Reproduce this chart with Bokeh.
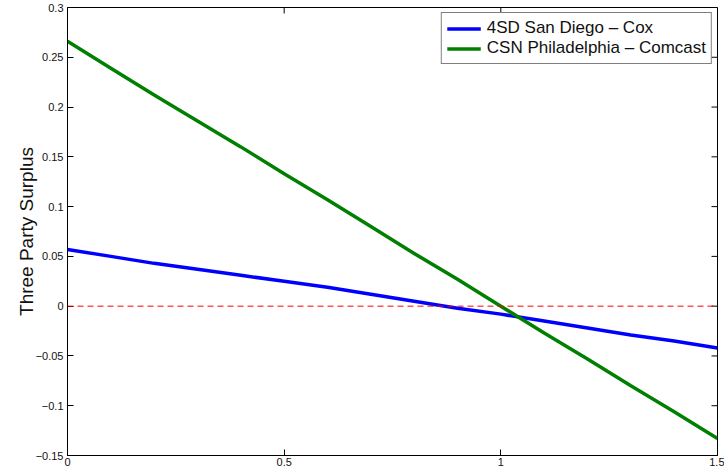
from bokeh.plotting import figure
from bokeh.models import (LinearAxis, FixedTicker, Range1d, Legend, LegendItem, Span)
from bokeh.embed import file_html
from bokeh.resources import INLINE

# ---- data ----
x_vals = [0.0, 0.1, 0.2, 0.3, 0.4, 0.5, 0.6, 0.7, 0.8, 0.9, 1.0, 1.1, 1.2, 1.3, 1.4, 1.5]
san_diego_cox = [0.057, 0.050, 0.043, 0.037, 0.031, 0.025, 0.019, 0.012, 0.005, -0.002,
                 -0.008, -0.015, -0.022, -0.029, -0.035, -0.042]
philadelphia_comcast = [0.266, 0.239, 0.212, 0.186, 0.160, 0.133, 0.107, 0.080, 0.053, 0.027,
                        0.000, -0.027, -0.053, -0.080, -0.106, -0.133]
series_names = ["4SD San Diego \u2013 Cox", "CSN Philadelphia \u2013 Comcast"]
x_ticks = [0, 0.5, 1, 1.5]
x_tick_labels = ["0", "0.5", "1", "1.5"]
y_ticks = [-0.15, -0.1, -0.05, 0, 0.05, 0.1, 0.15, 0.2, 0.25, 0.3]
y_tick_labels = ["\u22120.15", "\u22120.1", "\u22120.05", "0", "0.05", "0.1", "0.15", "0.2", "0.25", "0.3"]
y_label = "Three Party Surplus"
x_min, x_max = 0, 1.5
y_min, y_max = -0.15, 0.3

FONT = "Liberation Sans"
TXT = "#111111"

W, H = 724, 471
BL, BR, BT, BB = 67, 7, 7, 16
FRAME_W = W - BL - BR
FRAME_H = H - BT - BB
TICK = 6  # px

p = figure(width=W, height=H, output_backend="svg", toolbar_location=None,
           x_range=Range1d(x_min, x_max), y_range=Range1d(y_min, y_max),
           min_border_left=BL, min_border_right=BR, min_border_top=BT, min_border_bottom=BB,
           x_axis_location=None, y_axis_location=None)
p.background_fill_color = "white"
p.border_fill_color = "white"
p.outline_line_color = "black"
p.outline_line_width = 1
p.xgrid.visible = False
p.ygrid.visible = False

def style_axis(ax, ticks, labels):
    ax.ticker = FixedTicker(ticks=ticks)
    ax.major_label_overrides = {t: l for t, l in zip(ticks, labels)}
    ax.minor_tick_line_color = None
    ax.major_tick_in = TICK
    ax.major_tick_out = 0
    ax.major_tick_line_color = "black"
    ax.axis_line_color = "black"
    ax.major_label_text_font = FONT
    ax.major_label_text_font_size = "11px"
    ax.major_label_text_color = TXT

bottom = LinearAxis()
style_axis(bottom, x_ticks, x_tick_labels)
bottom.major_label_standoff = 2
p.add_layout(bottom, "below")

left = LinearAxis()
style_axis(left, y_ticks, y_tick_labels)
left.major_label_standoff = 4
left.axis_label = y_label
left.axis_label_text_font = FONT
left.axis_label_text_font_size = "19px"
left.axis_label_text_font_style = "normal"
left.axis_label_text_color = TXT
left.axis_label_standoff = -4
p.add_layout(left, "left")

# MATLAB-style box ticks on the top and right edges (tick length converted to data units)
dy = TICK * (y_max - y_min) / FRAME_H
dx = TICK * (x_max - x_min) / FRAME_W
p.segment(x0=x_ticks, y0=[y_max] * len(x_ticks), x1=x_ticks, y1=[y_max - dy] * len(x_ticks),
          line_color="black", line_width=1)
p.segment(x0=[x_max] * len(y_ticks), y0=y_ticks, x1=[x_max - dx] * len(y_ticks), y1=y_ticks,
          line_color="black", line_width=1)

zero = Span(location=0, dimension="width", line_color="#ff0000",
            line_dash="6 4", line_width=1)
p.add_layout(zero)

r1 = p.line(x_vals, san_diego_cox, line_color="#0000ff", line_width=3.5)
r2 = p.line(x_vals, philadelphia_comcast, line_color="#008000", line_width=3.5)

legend = Legend(items=[LegendItem(label=series_names[0], renderers=[r1]),
                       LegendItem(label=series_names[1], renderers=[r2])],
                location="top_right")
legend.label_text_font = FONT
legend.label_text_font_size = "17px"
legend.label_text_color = TXT
legend.border_line_color = "black"
legend.border_line_width = 1
legend.background_fill_alpha = 1
legend.glyph_width = 34
legend.glyph_height = 19
legend.label_height = 19
legend.spacing = 0
legend.padding = 5
legend.margin = 5
legend.label_standoff = 6
p.add_layout(legend)

open("out.html", "w").write(file_html(p, INLINE))
